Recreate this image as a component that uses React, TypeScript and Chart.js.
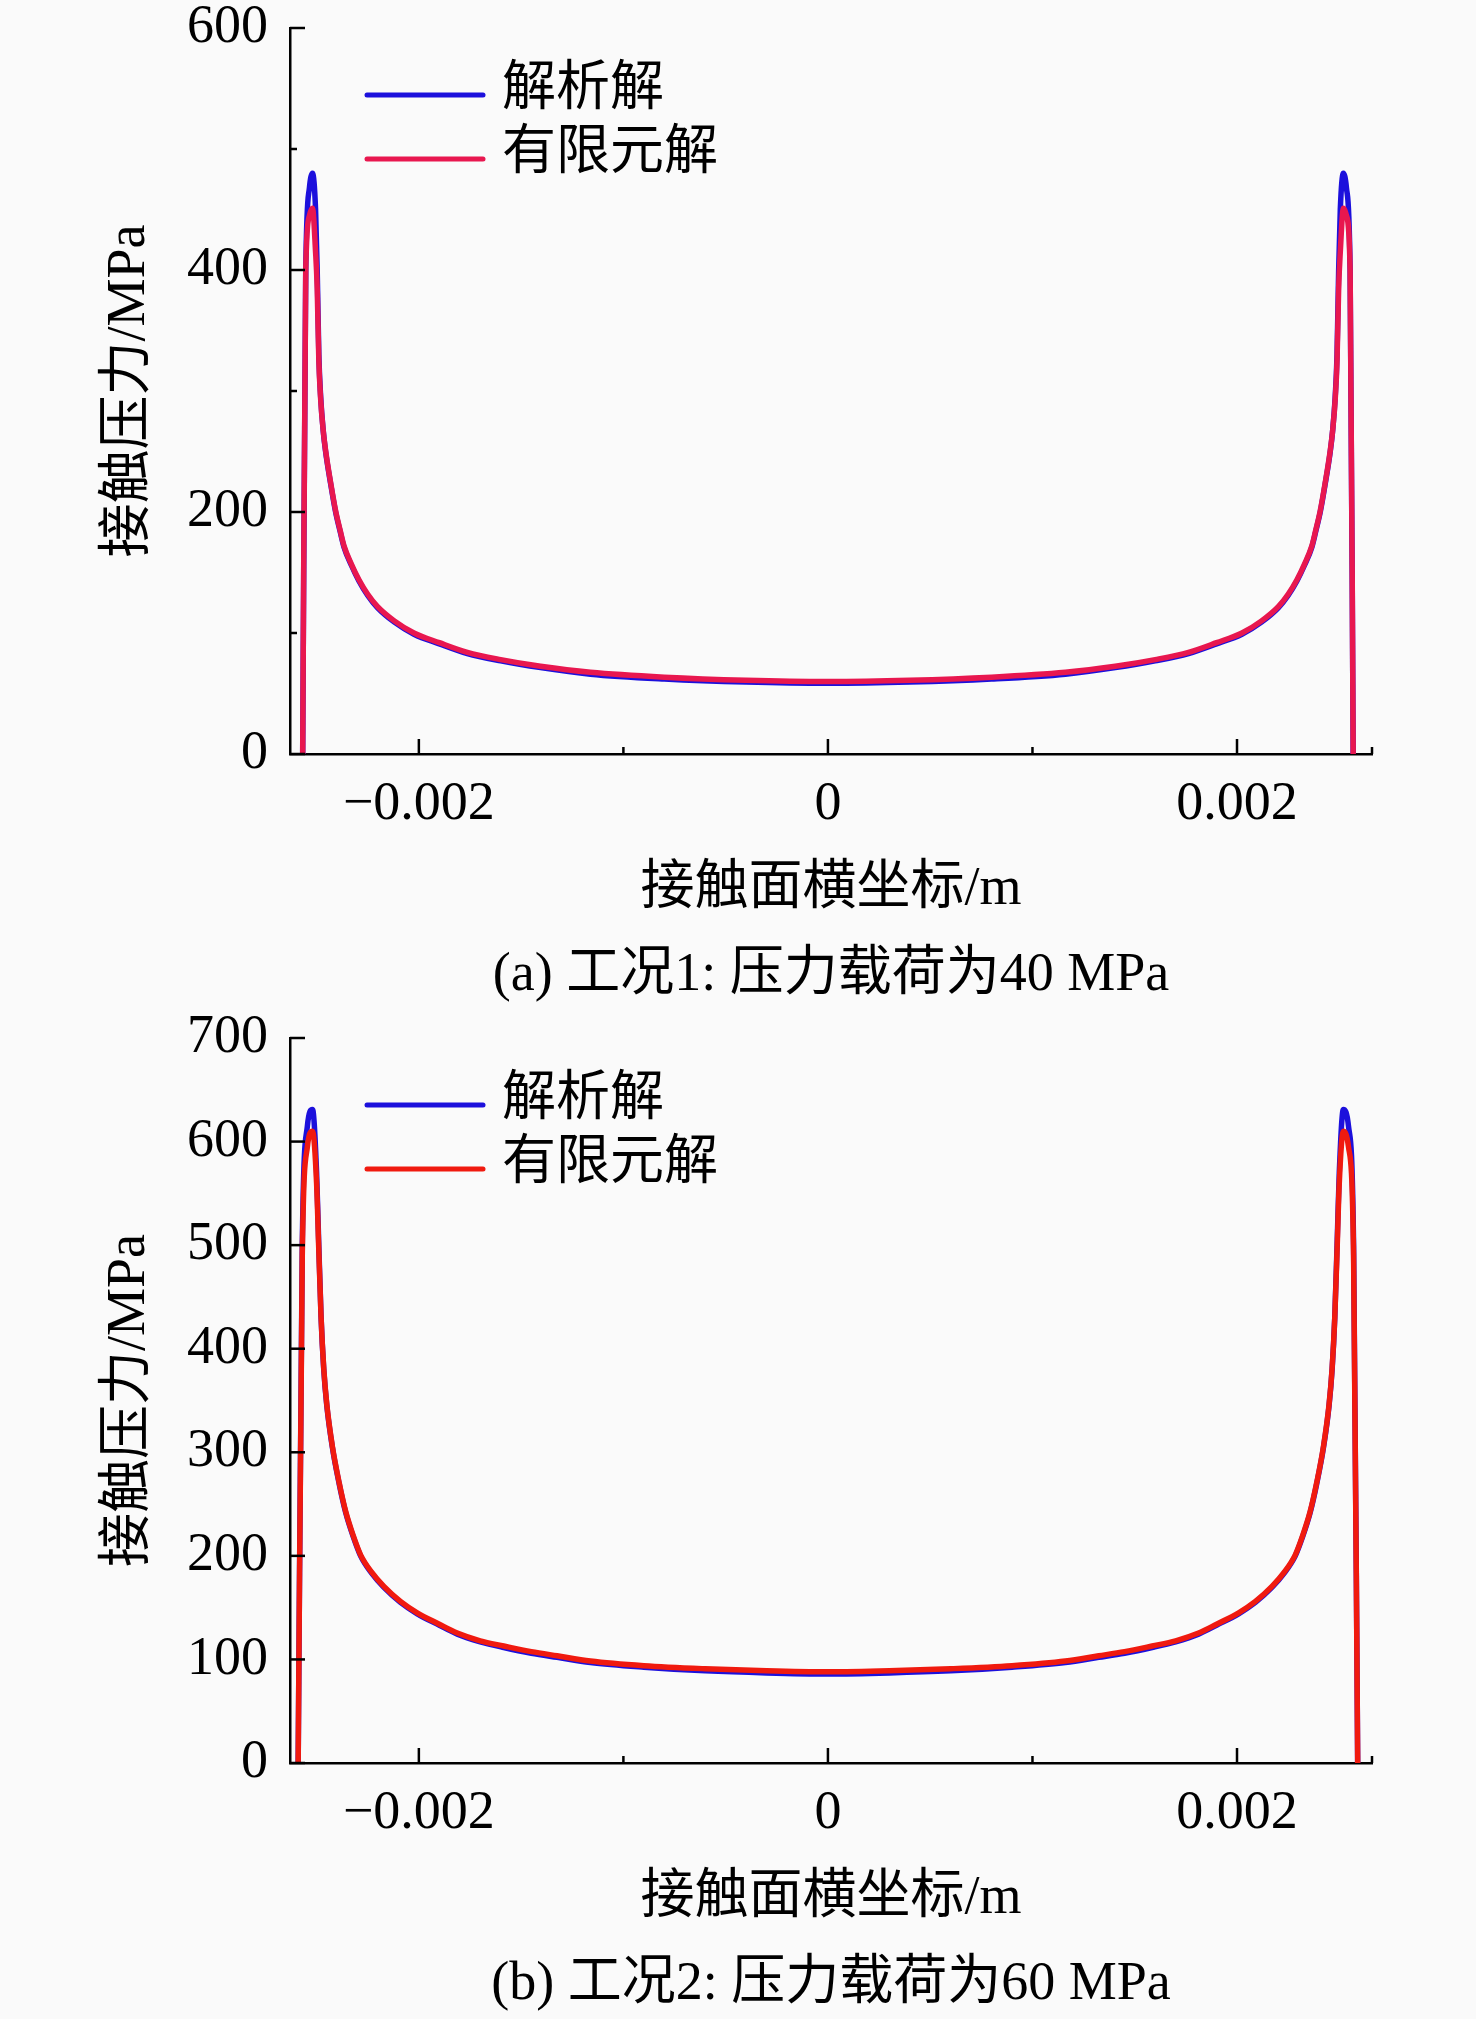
import { useEffect, useRef } from "react";
import Chart from "chart.js/auto";

// contact-surface coordinate (m) and contact pressure (MPa)
const case1X = [
  -0.002568, -0.002553, -0.002535, -0.00252, -0.002505, -0.002497, -0.002489,
  -0.00248, -0.002468, -0.002456, -0.00243, -0.002407, -0.002385, -0.002366,
  -0.00233, -0.002293, -0.00225, -0.002203, -0.00212, -0.002024, -0.0019,
  -0.001763, -0.0016, -0.001405, -0.001161, -0.0008, -0.0004, 0, 0.0004,
  0.0008, 0.001161, 0.001405, 0.0016, 0.001763, 0.0019, 0.002024, 0.00212,
  0.002203, 0.00225, 0.002293, 0.00233, 0.002366, 0.002385, 0.002407, 0.00243,
  0.002456, 0.002468, 0.00248, 0.002489, 0.002497, 0.002505, 0.00252,
  0.002535, 0.002553, 0.002568,
];
const case1Analytic = [
  0, 400, 468, 480, 450, 400, 330, 295, 268, 250, 222, 200, 184, 171, 156,
  143, 131, 121, 109, 99, 91, 83, 77, 71.4, 66, 62, 59.5, 58.5, 59.5, 62, 66,
  71.4, 77, 83, 91, 99, 109, 121, 131, 143, 156, 171, 184, 200, 222, 250, 268,
  295, 330, 400, 450, 480, 468, 400, 0,
];
const case1Fem = [
  0, 400, 445, 451, 415, 385, 325, 293, 268, 251, 223, 201, 185, 172, 157,
  144, 132, 122, 110, 100, 92, 84, 78, 72.5, 67.5, 63.5, 61, 60, 61, 63.5,
  67.5, 72.5, 78, 84, 92, 100, 110, 122, 132, 144, 157, 172, 185, 201, 223,
  251, 268, 293, 325, 385, 415, 451, 445, 400, 0,
];

const case2X = [
  -0.00259, -0.00257, -0.002545, -0.00252, -0.0025, -0.00249, -0.002478,
  -0.002465, -0.00245, -0.002423, -0.00239, -0.002358, -0.00232, -0.002285,
  -0.00223, -0.002171, -0.00209, -0.002008, -0.0019, -0.001812, -0.0017,
  -0.001585, -0.00145, -0.001324, -0.001161, -0.0009, -0.0006, -0.0003, 0,
  0.0003, 0.0006, 0.0009, 0.001161, 0.001324, 0.00145, 0.001585, 0.0017,
  0.001812, 0.0019, 0.002008, 0.00209, 0.002171, 0.00223, 0.002285, 0.00232,
  0.002358, 0.00239, 0.002423, 0.00245, 0.002465, 0.002478, 0.00249, 0.0025,
  0.00252, 0.002545, 0.00257, 0.00259,
];
const case2Analytic = [
  0, 500, 615, 631, 570, 505, 430, 380, 345, 305, 270, 242, 218, 200, 183,
  169.5, 155, 144, 133, 124.4, 117, 111.5, 106, 102, 97, 92.5, 89, 87, 86, 87,
  89, 92.5, 97, 102, 106, 111.5, 117, 124.4, 133, 144, 155, 169.5, 183, 200,
  218, 242, 270, 305, 345, 380, 430, 505, 570, 631, 615, 500, 0,
];
const case2Fem = [
  0, 490, 595, 610, 560, 500, 430, 381, 346, 306, 271, 243, 219, 201, 184,
  170.5, 156, 145, 134, 125.5, 118, 113, 107.5, 103.5, 98.5, 94, 91, 89, 88,
  89, 91, 94, 98.5, 103.5, 107.5, 113, 118, 125.5, 134, 145, 156, 170.5, 184,
  201, 219, 243, 271, 306, 346, 381, 430, 500, 560, 610, 595, 490, 0,
];

const xMin = -0.00263;
const xMax = 0.00266;

const FONT = '"Liberation Serif", "Noto Sans CJK SC", serif';
const BG = "#fafafa";
const BLUE = "#1c10dc";

const serif = { family: FONT, size: 54, weight: "normal" as const, lineHeight: 1 };

// tick marks pointing into the plot, long on labelled values
const innerTicks = {
  id: "innerTicks",
  afterDraw(chart: any, _args: any, opts: any) {
    const { ctx, chartArea, scales } = chart;
    ctx.save();
    ctx.strokeStyle = "#000";
    ctx.lineWidth = 2.5;
    const line = (x0: number, y0: number, x1: number, y1: number) => {
      ctx.beginPath();
      ctx.moveTo(x0, y0);
      ctx.lineTo(x1, y1);
      ctx.stroke();
    };
    scales.x.ticks.forEach((t: any) => {
      const px = scales.x.getPixelForValue(t.value);
      const major = Math.round(t.value * 1000) % 2 === 0;
      line(px, chartArea.bottom, px, chartArea.bottom - (major ? 15 : 7));
    });
    line(chartArea.right, chartArea.bottom, chartArea.right, chartArea.bottom - 7);
    scales.y.ticks.forEach((t: any) => {
      const py = scales.y.getPixelForValue(t.value);
      const major = Math.round(t.value) % opts.yMajorStep === 0;
      line(chartArea.left, py, chartArea.left + (major ? 15 : 7), py);
    });
    ctx.restore();
  },
};

const insetLegend = {
  id: "insetLegend",
  afterDraw(chart: any, _args: any, opts: any) {
    const { ctx } = chart;
    ctx.save();
    ctx.font = `54px ${FONT}`;
    ctx.textAlign = "left";
    ctx.textBaseline = "middle";
    chart.data.datasets.forEach((ds: any, i: number) => {
      const y = opts.y + i * opts.rowGap;
      ctx.strokeStyle = ds.borderColor;
      ctx.lineWidth = 5;
      ctx.lineCap = "round";
      ctx.beginPath();
      ctx.moveTo(opts.x0, y);
      ctx.lineTo(opts.x1, y);
      ctx.stroke();
      ctx.fillStyle = "#000";
      ctx.fillText(ds.label, opts.textX, y - 4);
    });
    ctx.restore();
  },
};

interface PressureChartProps {
  xs: number[];
  analytic: number[];
  fem: number[];
  femColor: string;
  yMax: number;
  yLabelStep: number;
  caption: string;
}

function PressureChart({
  xs,
  analytic,
  fem,
  femColor,
  yMax,
  yLabelStep,
  caption,
}: PressureChartProps) {
  const canvasRef = useRef<HTMLCanvasElement>(null);

  useEffect(() => {
    if (!canvasRef.current) return;

    const chart = new Chart(canvasRef.current, {
      type: "line",
      data: {
        datasets: [
          {
            label: "解析解",
            data: xs.map((x, i) => ({ x, y: analytic[i] })),
            borderColor: BLUE,
            borderWidth: 5.5,
            pointRadius: 0,
            cubicInterpolationMode: "monotone",
            order: 1,
          },
          {
            label: "有限元解",
            data: xs.map((x, i) => ({ x, y: fem[i] })),
            borderColor: femColor,
            borderWidth: 5.5,
            pointRadius: 0,
            cubicInterpolationMode: "monotone",
            order: 0,
          },
        ],
      },
      options: {
        responsive: true,
        maintainAspectRatio: false,
        animation: false,
        layout: { padding: { top: 28, right: 104, left: 0, bottom: 0 } },
        plugins: {
          legend: { display: false },
          tooltip: { enabled: false },
          title: {
            display: true,
            fullSize: false,
            position: "bottom",
            text: caption,
            color: "#000",
            font: serif,
            padding: { top: 10, bottom: 7 },
          },
          insetLegend: { x0: 367, x1: 483, textX: 502, y: 95, rowGap: 64 },
          innerTicks: { yMajorStep: yLabelStep },
        } as any,
        scales: {
          x: {
            type: "linear",
            min: xMin,
            max: xMax,
            afterFit: (s: any) => {
              s.height = 185;
            },
            grid: { display: false, drawTicks: false },
            border: { display: true, color: "#000", width: 2.5 },
            ticks: {
              stepSize: 0.001,
              includeBounds: false,
              autoSkip: false,
              maxRotation: 0,
              padding: 24,
              color: "#000",
              font: serif,
              callback: (v: any) => {
                const k = Math.round(Number(v) * 1000);
                if (k % 2 !== 0) return "";
                if (k === 0) return "0";
                return (k < 0 ? "\u2212" : "") + (Math.abs(k) / 1000).toFixed(3);
              },
            },
            title: {
              display: true,
              text: "接触面横坐标/m",
              color: "#000",
              font: serif,
              padding: { top: 0, bottom: 22 },
            },
          },
          y: {
            min: 0,
            max: yMax,
            afterFit: (s: any) => {
              s.width = 290;
              s.paddingTop = 20;
              s.paddingBottom = 20;
            },
            grid: { display: false, drawTicks: false },
            border: { display: true, color: "#000", width: 2.5 },
            ticks: {
              stepSize: 100,
              padding: 22,
              color: "#000",
              font: serif,
              callback: (v: any) =>
                Math.round(Number(v)) % yLabelStep === 0 ? String(v) : "",
            },
            title: {
              display: true,
              text: "接触压力/MPa",
              color: "#000",
              font: serif,
              padding: { top: 103, bottom: 0 },
            },
          },
        },
      },
      plugins: [innerTicks, insetLegend],
    });

    return () => {
      chart.destroy();
    };
  }, []);

  return <canvas ref={canvasRef} style={{ display: "block" }} />;
}

export default function App() {
  useEffect(() => {
    document.body.style.margin = "0";
    document.body.style.background = BG;
  }, []);

  return (
    <div style={{ width: 1476, height: 2019, background: BG }}>
      <div style={{ position: "relative", width: 1476, height: 1010 }}>
        <PressureChart
          xs={case1X}
          analytic={case1Analytic}
          fem={case1Fem}
          femColor="#e8174f"
          yMax={600}
          yLabelStep={200}
          caption="(a) 工况1: 压力载荷为40 MPa"
        />
      </div>
      <div style={{ position: "relative", width: 1476, height: 1009 }}>
        <PressureChart
          xs={case2X}
          analytic={case2Analytic}
          fem={case2Fem}
          femColor="#f01a0f"
          yMax={700}
          yLabelStep={100}
          caption="(b) 工况2: 压力载荷为60 MPa"
        />
      </div>
    </div>
  );
}
